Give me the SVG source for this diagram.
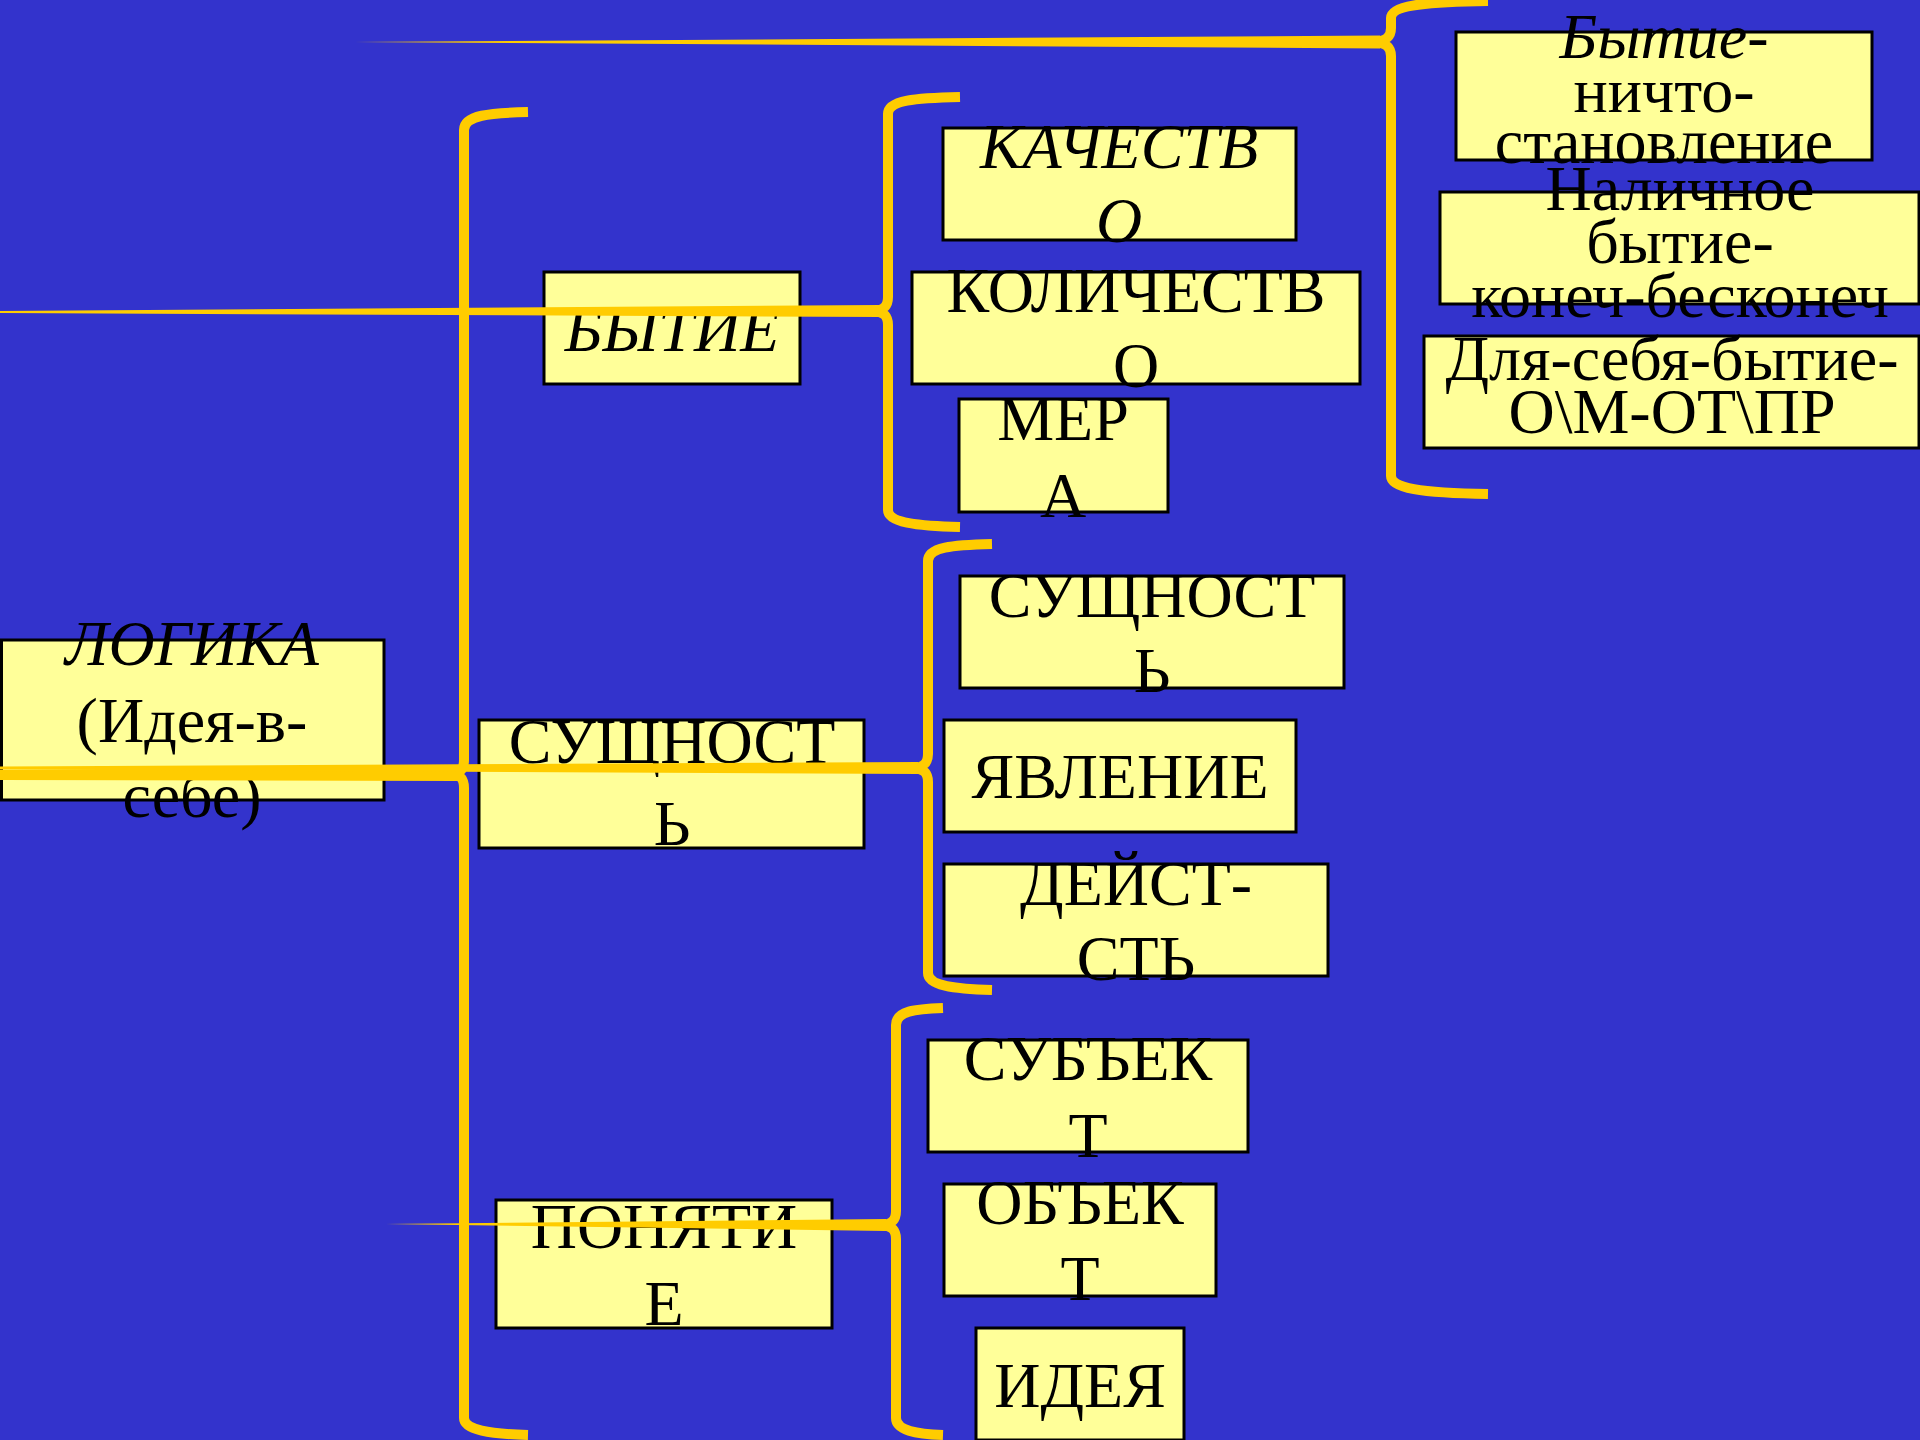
<svg xmlns="http://www.w3.org/2000/svg" width="1920" height="1440" viewBox="0 0 1920 1440">
<style>
.box{fill:#FFFF99;stroke:#000;stroke-width:3}
.t{font-family:"Liberation Serif","Times New Roman",serif;font-size:64px;fill:#000;text-anchor:middle}
.t2{font-family:"Liberation Serif","Times New Roman",serif;font-size:64px;fill:#000;text-anchor:middle}
.i{font-style:italic}
.br{fill:none;stroke:#FFCC00;stroke-width:10}
.tail{fill:#FFCC00;stroke:none}
</style>
<rect width="1920" height="1440" fill="#3333CC"/>
<g id="nodes">
<g id="logika"><rect class="box" x="1.5" y="640" width="382.5" height="160"/>
<text class="t"><tspan class="i" x="192" y="665">ЛОГИКА</tspan><tspan x="192" y="742">(Идея-в-</tspan><tspan x="192" y="817">себе)</tspan></text></g>
<g id="bytie"><rect class="box" x="544" y="272" width="256" height="112"/>
<text class="t i" x="672" y="351">БЫТИЕ</text></g>
<g id="sushchnost1"><rect class="box" x="479" y="720" width="385" height="128"/>
<text class="t"><tspan x="672" y="763">СУЩНОСТ</tspan><tspan x="672" y="845">Ь</tspan></text></g>
<g id="ponyatie"><rect class="box" x="496" y="1200" width="336" height="128"/>
<text class="t"><tspan x="664" y="1248">ПОНЯТИ</tspan><tspan x="664" y="1325">Е</tspan></text></g>
<g id="kachestvo"><rect class="box" x="943" y="128" width="353" height="112"/>
<text class="t i"><tspan x="1119" y="168">КАЧЕСТВ</tspan><tspan x="1119" y="242">О</tspan></text></g>
<g id="kolichestvo"><rect class="box" x="912" y="272" width="448" height="112"/>
<text class="t"><tspan x="1136" y="312">КОЛИЧЕСТВ</tspan><tspan x="1136" y="387">О</tspan></text></g>
<g id="mera"><rect class="box" x="959" y="399" width="209" height="113"/>
<text class="t"><tspan x="1063" y="440">МЕР</tspan><tspan x="1063" y="517">А</tspan></text></g>
<g id="sushchnost2"><rect class="box" x="960" y="576" width="384" height="112"/>
<text class="t"><tspan x="1152" y="617">СУЩНОСТ</tspan><tspan x="1152" y="692">Ь</tspan></text></g>
<g id="yavlenie"><rect class="box" x="944" y="720" width="352" height="112"/>
<text class="t" x="1120" y="798">ЯВЛЕНИЕ</text></g>
<g id="deystvitelnost"><rect class="box" x="944" y="864" width="384" height="112"/>
<text class="t"><tspan x="1136" y="905">ДЕЙСТ-</tspan><tspan x="1136" y="980">СТЬ</tspan></text></g>
<g id="subject"><rect class="box" x="928" y="1040" width="320" height="112"/>
<text class="t"><tspan x="1088" y="1080">СУБЪЕК</tspan><tspan x="1088" y="1157">Т</tspan></text></g>
<g id="object"><rect class="box" x="944" y="1184" width="272" height="112"/>
<text class="t"><tspan x="1080" y="1224">ОБЪЕК</tspan><tspan x="1080" y="1300">Т</tspan></text></g>
<g id="ideya"><rect class="box" x="976" y="1328" width="208" height="112"/>
<text class="t" x="1080" y="1407">ИДЕЯ</text></g>
<g id="bytie-nichto"><rect class="box" x="1456" y="32" width="416" height="128"/>
<text class="t2"><tspan x="1664" y="58"><tspan class="i">Бытие</tspan>-</tspan><tspan x="1664" y="112">ничто-</tspan><tspan x="1664" y="163">становление</tspan></text></g>
<g id="nalichnoe"><rect class="box" x="1440" y="192" width="479" height="112"/>
<text class="t2"><tspan x="1680" y="210">Наличное</tspan><tspan x="1680" y="263">бытие-</tspan><tspan x="1680" y="317">конеч-бесконеч</tspan></text></g>
<g id="dlya-sebya"><rect class="box" x="1424" y="336" width="495" height="112"/>
<text class="t2"><tspan x="1672" y="380">Для-себя-бытие-</tspan><tspan x="1672" y="433">О\М-ОТ\ПР</tspan></text></g>
</g>
<g id="connectors">
<path class="br" d="M1488,1 C1420,2 1391,6 1391,18 L1391,28 C1391,37 1386,41 1374,42 M1374,42 C1386,43 1391,47 1391,56 L1391,476 C1391,488 1420,493 1488,494"/>
<polygon class="tail" points="1380,35.5 355,42 1380,48.5"/>
<path class="br" d="M528,112 C490,113 464,115 464,130 L464,760 C464,769 461,773 452,774 M452,774 C461,775 464,779 464,788 L464,1418 C464,1430 490,1434 528,1435"/>
<polygon class="tail" points="458,768 0,770 0,780 458,781"/>
<path class="br" d="M960,97 C915,98 888,100 888,114 L888,297 C888,306 884,310 874,311 M874,311 C884,312 888,316 888,325 L888,510 C888,522 915,526 960,527"/>
<polygon class="tail" points="880,305 0,311 0,313 880,317"/>
<path class="br" d="M992,544 C952,545 928,547 928,561 L928,754 C928,763 924,767 914,768 M914,768 C924,769 928,773 928,782 L928,973 C928,985 952,989 992,990"/>
<polygon class="tail" points="918,762 0,766.5 0,769.5 918,774"/>
<path class="br" d="M943,1008 C915,1009 896,1011 896,1025 L896,1211 C896,1220 892,1224 882,1225 M882,1225 C892,1226 896,1230 896,1239 L896,1418 C896,1430 915,1434 943,1435"/>
<polygon class="tail" points="886,1219 386,1224 886,1231"/>
</g>
</svg>
